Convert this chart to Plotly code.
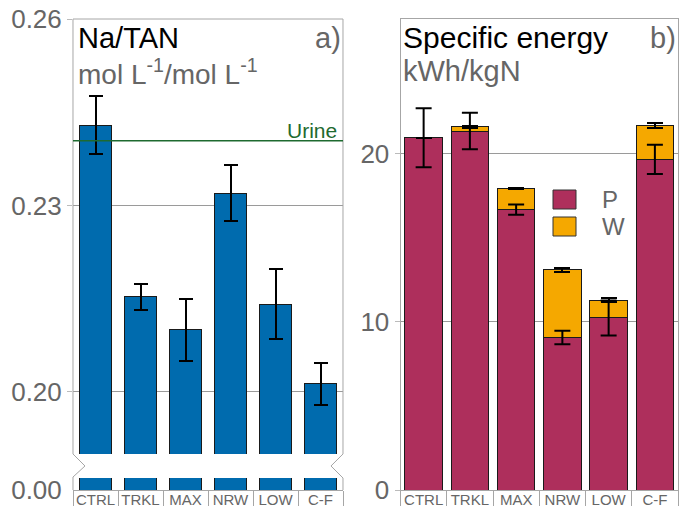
import plotly.graph_objects as go

# Treatments (x categories)
treatments = ["CTRL", "TRKL", "MAX", "NRW", "LOW", "C-F"]

# a) Na/TAN ratio (mol L-1 / mol L-1) with standard deviation
na_tan = [0.2429, 0.2153, 0.2100, 0.2320, 0.2141, 0.2013]
na_tan_err = [0.0047, 0.0021, 0.0050, 0.0045, 0.0056, 0.0034]
urine_ratio = 0.2404

# b) Specific energy (kWh/kgN), stacked: P and W contributions
energy_p = [20.94, 21.34, 16.67, 9.07, 10.23, 19.65]
energy_p_err = [1.75, 1.09, 0.30, 0.40, 1.04, 0.87]
energy_w = [0.0, 0.26, 1.26, 4.03, 1.05, 2.04]
energy_w_err = [0.0, 0.05, 0.05, 0.12, 0.13, 0.15]

left_ticks = [0.20, 0.23, 0.26]
right_ticks = [0, 10, 20]

BLUE = "#006BAE"
P_COL = "#AE2F5C"
W_COL = "#F5A800"
GREEN = "#1E6A30"
FRAME = "#A6A6A6"
GRID = "#9A9A9A"
TXT = "#666666"
FONT = "Liberation Sans, Arial, sans-serif"

W, H = 679, 507


def px(x, y):
    """Pixel position -> paper coordinates."""
    return x / W, 1 - y / H


# panel geometry in pixels
L0, L1 = 73, 343
R0, R1 = 400.5, 678
TOP, BOT = 19, 490
BRK_HI, BRK_LO = 454, 478

fig = go.Figure()

# upper part of the broken axis
fig.add_trace(go.Bar(
    x=treatments, y=na_tan, width=0.71, xaxis="x", yaxis="y",
    marker=dict(color=BLUE, line=dict(color="#1a1a1a", width=1)),
    error_y=dict(type="data", array=na_tan_err, color="black", thickness=2, width=7),
    showlegend=False, hoverinfo="x+y"))
# lower stub of the broken axis
fig.add_trace(go.Bar(
    x=treatments, y=na_tan, width=0.71, xaxis="x2", yaxis="y2",
    marker=dict(color=BLUE, line=dict(color="#1a1a1a", width=1)),
    showlegend=False, hoverinfo="skip"))

# stacked specific energy
fig.add_trace(go.Bar(
    x=treatments, y=energy_p, width=0.81, xaxis="x3", yaxis="y3", name="P",
    marker=dict(color=P_COL, line=dict(color="#1a1a1a", width=1)),
    showlegend=False))
fig.add_trace(go.Bar(
    x=treatments, y=energy_w, width=0.81, xaxis="x3", yaxis="y3", name="W",
    marker=dict(color=W_COL, line=dict(color="#1a1a1a", width=1)),
    error_y=dict(type="data", array=energy_w_err, color="black", thickness=2, width=8),
    showlegend=False))
# P error bars kept on top of the stacked W segments
fig.add_trace(go.Scatter(
    x=treatments, y=energy_p, xaxis="x3", yaxis="y3", mode="markers",
    marker=dict(size=1, opacity=0),
    error_y=dict(type="data", array=energy_p_err, color="black", thickness=2, width=8),
    showlegend=False, hoverinfo="skip"))

xl = [L0 / W, L1 / W]
xr = [R0 / W, R1 / W]
y_up = [1 - BRK_HI / H, 1 - TOP / H]
y_low = [1 - BOT / H, 1 - BRK_LO / H]
y_r = [1 - BOT / H, 1 - TOP / H]

tickfont = dict(family=FONT, size=26, color=TXT)
catfont = dict(family=FONT, size=15, color=TXT)

cat_axis = dict(type="category", range=[-0.5, 5.5], tickfont=catfont, tickangle=0,
                showline=True, linecolor=FRAME, linewidth=1,
                ticks="outside", tickson="boundaries", ticklen=15, tickcolor=FRAME,
                ticklabelstandoff=-4, showgrid=False, zeroline=False,
                automargin=False)

fig.update_layout(
    width=W, height=H,
    margin=dict(l=0, r=0, t=0, b=0),
    paper_bgcolor="white", plot_bgcolor="white",
    barmode="stack",
    font=dict(family=FONT, color=TXT),
    xaxis=dict(domain=xl, anchor="y", type="category", range=[-0.5, 5.5],
               showticklabels=False, showline=False, showgrid=False, ticks="",
               zeroline=False, automargin=False),
    yaxis=dict(domain=y_up, anchor="x", range=[0.19, 0.26],
               tickvals=left_ticks, ticktext=[f"{v:.2f}" for v in left_ticks],
               tickfont=tickfont, showgrid=True, gridcolor=GRID, gridwidth=1,
               ticks="outside", ticklen=5, tickcolor="#BBBBBB",
               zeroline=False, showline=False, automargin=False),
    xaxis2=dict(domain=xl, anchor="y2", **cat_axis),
    yaxis2=dict(domain=y_low, anchor="x2", range=[0, 0.002],
                tickvals=[0], ticktext=["0.00"], tickfont=tickfont,
                ticks="outside", ticklen=5, tickcolor="rgba(0,0,0,0)",
                showgrid=False, zeroline=False, showline=False, automargin=False),
    xaxis3=dict(domain=xr, anchor="y3", mirror=True, **cat_axis),
    yaxis3=dict(domain=y_r, anchor="x3", range=[0, 28],
                tickvals=right_ticks, tickfont=tickfont,
                showgrid=True, gridcolor=GRID, gridwidth=1,
                ticks="outside", ticklen=5, tickcolor="#BBBBBB",
                showline=True, linecolor=FRAME, linewidth=1, mirror=True,
                zeroline=False, automargin=False),
)

# frame of the left panel with the axis-break notches
pts = [(L0, BRK_HI), (L0, TOP), (L1, TOP), (L1, BRK_HI), (L1 - 12, 466),
       (L1, BRK_LO), (L1, BOT)]
pts2 = [(L0, BOT), (L0, BRK_LO - 1), (L0 + 12, 466), (L0, BRK_HI)]
for seq in (pts, pts2):
    path = "M " + " L ".join(f"{px(x, y)[0]:.5f},{px(x, y)[1]:.5f}" for x, y in seq)
    fig.add_shape(type="path", path=path, xref="paper", yref="paper",
                  line=dict(color=FRAME, width=1), layer="above")

# urine reference level
fig.add_shape(type="line", xref="x domain", yref="y", x0=0, x1=1,
              y0=urine_ratio, y1=urine_ratio, line=dict(color=GREEN, width=1.5),
              layer="above")
fig.add_annotation(xref="x domain", yref="y", x=0.985, y=urine_ratio,
                   text="Urine", showarrow=False, xanchor="right", yanchor="bottom",
                   yshift=-3, font=dict(family=FONT, size=21, color=GREEN))

# panel titles
def label(x, y, text, color, anchor="left", size=29):
    fig.add_annotation(xref="paper", yref="paper", x=x / W, y=1 - y / H, text=text,
                       showarrow=False, xanchor=anchor, yanchor="middle",
                       font=dict(family=FONT, size=size, color=color))

label(76, 38, "Na/TAN", "black")
label(76, 72, "mol L<sup>-1</sup>/mol L<sup>-1</sup>", TXT, size=28)
label(343, 38, "a)", TXT, anchor="right")
label(401, 38, "Specific energy", "black", size=30)
label(401, 71, "kWh/kgN", TXT)
label(678, 38, "b)", TXT, anchor="right")

# legend keys for the stacked series
for (name, col), yc in zip([("P", P_COL), ("W", W_COL)], [199.5, 226.5]):
    x0, y0 = px(553, yc - 9.5)
    x1, y1 = px(576, yc + 9.5)
    fig.add_shape(type="rect", xref="paper", yref="paper", x0=x0, x1=x1, y0=y0, y1=y1,
                  fillcolor=col, line=dict(color="#333333", width=1))
    label(600, yc, name, TXT, size=24)

fig.write_html("out.html")
